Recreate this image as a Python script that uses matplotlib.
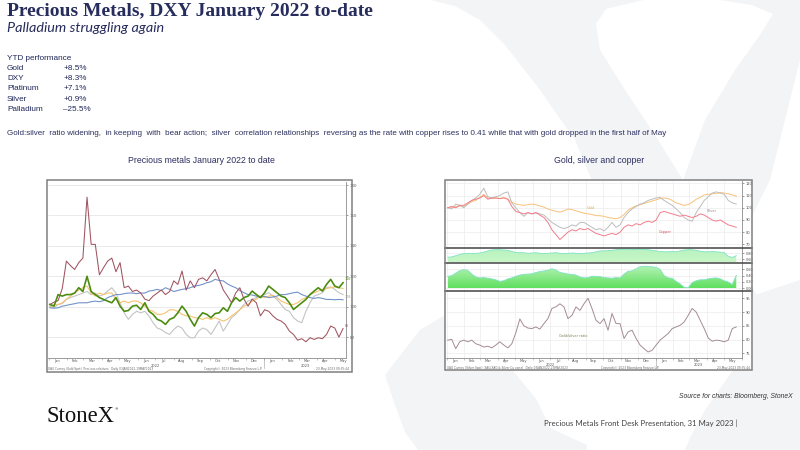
import matplotlib
matplotlib.use("Agg")
import matplotlib.pyplot as plt
import matplotlib.dates as mdates
from matplotlib.patches import Rectangle, Polygon
from matplotlib.lines import Line2D
from matplotlib.colors import LinearSegmentedColormap
import numpy as np
import pandas as pd

# ------------------------------------------------------------------ data
ytd_names = ["Gold", "DXY", "Platinum", "Silver", "Palladium"]
ytd_values = ["+8.5%", "+8.3%", "+7.1%", "+0.9%", "\u201325.5%"]

# left chart: weekly observations, rebased to 100 (Jan 2022)
left_start = "2022-01-03"
palladium = [101.5, 103, 104, 112, 130, 127, 124.5, 129, 132, 172, 141, 141, 121, 125.7, 130, 132,
             123, 129, 112.5, 113.6, 110, 111, 109, 105, 104, 107, 109, 111, 108, 110, 117, 114.7,
             123.5, 111, 117, 112.5, 118, 119, 117, 121, 124.5, 118, 111, 107, 102.6, 109, 112.5, 105,
             100.4, 105, 102.6, 94, 98, 97, 94, 91.7, 90.6, 88.4, 84, 81.8, 78, 79, 77, 79.6, 78.5,
             79.6, 79, 81.8, 87.3, 86, 80, 85.7]
gold_l = [100, 101.5, 101.5, 102.6, 105, 107, 109, 111, 112.5, 113.6, 109, 107, 109, 108, 109, 109,
          105, 102.6, 103.7, 102.6, 103.7, 103.7, 102.6, 100.4, 98, 97, 95, 95, 96, 98, 98, 97, 95,
          94, 94, 92.8, 92.5, 91.7, 92.8, 91.7, 92.8, 91.7, 90.6, 91.7, 94, 96, 98, 100.4, 101.5,
          103.7, 105, 107, 106, 107, 107.5, 106, 103.7, 102.6, 101.5, 101.5, 102.6, 104.8, 106, 108,
          109.2, 110.3, 111.4, 112, 112.5, 113, 112.5, 112]
dxy = [99.3, 99, 99.3, 100.4, 100.9, 101.5, 102, 102.6, 102.6, 102.6, 103.3, 103.7, 103.3, 104, 106,
       107, 108, 108, 108.6, 109, 109, 108.6, 109, 109, 110.3, 110.7, 111.4, 110.7, 112.5, 111.4, 110,
       110.7, 111.4, 111.8, 112.5, 113.6, 114, 114.7, 115.8, 116.4, 118, 117.3, 117, 115, 113.6,
       112.5, 110.7, 109.2, 108, 107.7, 107, 106.4, 106.8, 106, 106.4, 107, 108, 108, 108.6, 109.2,
       109.6, 108, 107, 106, 105.5, 106, 105.5, 104.8, 104.8, 104.6, 104.8, 104.6]
platinum = [101.5, 100.4, 108, 107, 108, 108, 109, 112.5, 110, 120, 110, 108, 106, 104.8, 103.7, 102.6,
            106, 100.4, 97, 97.5, 100.4, 101, 98.2, 102.6, 97, 95, 91.7, 90.6, 88.4, 91.7, 92.8, 96,
            100.4, 97, 91.7, 87.3, 92.8, 96, 95, 92.8, 95.5, 96, 99.3, 97, 102.6, 106, 103.7, 106, 107,
            110.3, 108, 106, 109.2, 113.6, 111.4, 109.2, 107, 106, 102.6, 98.2, 100.4, 102.6, 104.8,
            108, 110.3, 112.5, 110.3, 114.7, 118, 113.6, 112.5, 115.8]
silver_l = [100.4, 99.3, 101.5, 102, 104.8, 106, 107, 108, 109, 110, 108, 109, 107, 108, 110.3, 112.5,
            109, 102.6, 96, 91.7, 95, 97, 96, 97, 93.9, 89.5, 86, 85, 83, 81.8, 85, 87.3, 86, 81.8,
            79.6, 79.6, 84, 86, 85, 81.8, 86, 90.6, 84, 88.4, 92.8, 95, 98.2, 101.5, 103.7, 104.8, 106,
            107, 108, 109.2, 107, 104.8, 101.5, 98.2, 97, 92.8, 90.6, 89.5, 97, 102.6, 107, 108, 109.2,
            112.5, 113, 111.4, 109.2, 108]

# right chart: weekly observations
right_start = "2022-01-03"
gold_r = [100, 100.5, 101, 101.5, 101, 103, 105, 106, 108.5, 111, 108, 107.5, 108, 107.5, 108.5, 107,
          104.5, 103, 102.5, 102, 102.5, 103, 102.5, 101.5, 100.5, 99, 98, 97, 96.5, 97.5, 99, 98.5,
          97.5, 96.5, 95.5, 95, 94.5, 93.5, 93.5, 93, 92, 91.5, 91, 92, 94.5, 98, 100, 101.5, 102.5,
          103.5, 104.5, 105.5, 106.5, 107.5, 108, 107.5, 106, 104, 103, 102, 102.5, 104.5, 107, 108.5,
          110.5, 111, 111.5, 111.5, 112.5, 112, 111.5, 110.5, 109.5]
silver_r = [100, 99, 103, 102, 100, 103, 106, 108, 111, 116, 109, 108, 109, 110, 112, 113, 104, 100, 96,
            93, 96, 95, 96, 95, 94, 91, 88, 86, 84, 83, 84, 86, 85, 88, 88, 86, 84, 82, 83, 81, 84, 88,
            84, 86, 92, 96, 99, 101, 103, 104, 106, 107, 108, 108.5, 106, 104, 102, 99, 96, 92, 90, 89,
            96, 101, 106, 109, 112, 113, 112, 111, 106, 104, 103]
copper_r = [100, 101, 100, 102, 102, 104, 106, 107, 108, 110, 107, 108, 108, 107.5, 108, 107, 101, 97,
            96, 95, 96, 95, 96, 94, 92, 88, 82, 78, 74, 77, 80, 82, 81, 83, 82, 83, 81, 79, 78, 77, 78,
            79, 78, 80, 84, 86, 85, 87, 86, 88, 89, 88, 90, 96, 97, 96, 95, 94, 93, 94, 93, 92, 93, 95,
            94, 92, 90, 89, 90, 88, 86, 85, 84]
corr_silver_gold = [0.67, 0.68, 0.72, 0.76, 0.79, 0.80, 0.79, 0.80, 0.81, 0.84,
                    0.88, 0.91, 0.92, 0.92, 0.91, 0.90, 0.86, 0.83, 0.82, 0.82,
                    0.80, 0.81, 0.82, 0.80, 0.79, 0.80, 0.81, 0.82, 0.80, 0.79,
                    0.80, 0.81, 0.80, 0.79, 0.80, 0.81, 0.82, 0.85, 0.88, 0.88,
                    0.89, 0.90, 0.92, 0.93, 0.94, 0.94, 0.93, 0.93, 0.94, 0.93,
                    0.92, 0.90, 0.88, 0.86, 0.85, 0.85, 0.86, 0.85, 0.88, 0.91,
                    0.92, 0.92, 0.90, 0.87, 0.85, 0.85, 0.86, 0.85, 0.84, 0.82,
                    0.70, 0.66, 0.72]
corr_silver_copper = [0.38, 0.40, 0.48, 0.56, 0.59, 0.57, 0.45, 0.36, 0.33, 0.34,
                      0.32, 0.30, 0.27, 0.22, 0.24, 0.30, 0.33, 0.38, 0.42, 0.44,
                      0.45, 0.46, 0.50, 0.53, 0.55, 0.57, 0.62, 0.58, 0.50, 0.48,
                      0.45, 0.44, 0.42, 0.36, 0.33, 0.34, 0.38, 0.38, 0.37, 0.34,
                      0.33, 0.32, 0.34, 0.33, 0.45, 0.54, 0.55, 0.62, 0.68, 0.70,
                      0.69, 0.68, 0.66, 0.60, 0.40, 0.33, 0.32, 0.22, 0.14, 0.03,
                      0.02, 0.18, 0.24, 0.27, 0.27, 0.30, 0.32, 0.33, 0.30, 0.24,
                      0.20, 0.12, 0.41]
gold_silver_ratio = [79.8, 80.1, 76.7, 79.2, 79.8, 79.2, 79.8, 78.5, 78, 77.3,
                     77.6, 77, 78, 79.2, 78, 77, 78.5, 82.5, 87.5, 85,
                     84.2, 84, 84.6, 83.8, 85.8, 87.6, 91.3, 91.9, 93, 91.9,
                     87.6, 88.8, 91.9, 90.6, 93, 95, 91.3, 87, 85.8, 87.6,
                     83.4, 89.5, 85.8, 85.8, 80.4, 82.8, 83.4, 80.4, 78, 76.7,
                     75.5, 76.1, 78, 79.8, 81, 82.2, 84, 84.6, 85.2, 86.4,
                     88.8, 91.3, 90, 87, 84, 80.6, 79.4, 79.8, 79.6, 79.2,
                     79.8, 84, 84.6]

dates_l = pd.date_range(left_start, periods=len(palladium), freq="7D")
dates_r = pd.date_range(right_start, periods=len(gold_r), freq="7D")

# ------------------------------------------------------------------ figure helpers
W, H = 800, 450
fig = plt.figure(figsize=(8, 4.5), dpi=100)
fig.patch.set_facecolor("white")


def rect(x0, y0, x1, y1):
    return [x0 / W, 1 - y1 / H, (x1 - x0) / W, (y1 - y0) / H]


def T(x, y, s, **kw):
    kw.setdefault("va", "center")
    return fig.text(x / W, 1 - y / H, s, **kw)


def fpoly(pts, **kw):
    p = Polygon([(x / W, 1 - y / H) for x, y in pts], closed=True,
                transform=fig.transFigure, **kw)
    fig.add_artist(p)


def box(x0, y0, x1, y1):
    r = Rectangle((x0 / W, 1 - y1 / H), (x1 - x0) / W, (y1 - y0) / H,
                  transform=fig.transFigure, facecolor="white", edgecolor="none", zorder=-1)
    fig.add_artist(r)
    r2 = Rectangle((x0 / W, 1 - y1 / H), (x1 - x0) / W, (y1 - y0) / H,
                   transform=fig.transFigure, facecolor="none", edgecolor="#7f7f7f",
                   lw=1.1, zorder=6)
    fig.add_artist(r2)


def hline(x0, x1, y, **kw):
    fig.add_artist(Line2D([x0 / W, x1 / W], [1 - y / H, 1 - y / H],
                          transform=fig.transFigure, **kw))


# ------------------------------------------------------------------ watermark "X"
wm = dict(facecolor="#f3f4f6", edgecolor="none", zorder=-3)
# upper-left arm with its top serif
fpoly([(430, 0), (643, 0), (606, 9), (596, 24), (600, 50), (625, 90), (655, 135), (683, 180),
       (760, 300), (700, 300), (600, 200), (575, 140), (540, 90), (505, 45), (480, 20), (455, 6)], **wm)
# upper-right arm with its top serif
fpoly([(720, 0), (800, 0), (800, 60), (770, 180), (740, 240), (660, 240), (683, 180), (705, 120),
       (735, 70), (760, 35), (773, 14), (752, 5)], **wm)
# lower-right leg and foot
fpoly([(740, 300), (800, 280), (800, 450), (685, 450), (690, 438), (705, 410), (733, 370), (720, 330)], **wm)
# lower-left leg and foot
fpoly([(640, 240), (700, 260), (560, 320), (510, 367), (537, 400), (550, 428), (587, 445), (587, 450),
       (418, 450), (405, 432), (395, 405), (385, 375), (420, 330), (520, 270)], **wm)

# ------------------------------------------------------------------ slide text
navy = "#262c5c"
T(7, 16.5, "Precious Metals, DXY January 2022 to-date", va="baseline", fontsize=14,
  fontweight="bold", family="Liberation Serif", color=navy)
T(7, 32, "Palladium struggling again", va="baseline", fontsize=10.4, style="italic",
  family="Lato", color=navy)

body = dict(family="Liberation Sans", color="#1f2657", fontsize=5.9)
T(7, 58.5, "YTD performance", **body)
row_y = [68.5, 78.5, 88.5, 99.3, 109.3]
for nm, val, yy in zip(ytd_names, ytd_values, row_y):
    T(7, yy, nm, **body)
    T(63.3, yy, val, **body)

T(7, 134, "Gold:silver  ratio widening,  in keeping  with  bear action;  silver  correlation relationships  "
          "reversing as the rate with copper rises to 0.41 while that with gold dropped in the first half of May",
  family="Liberation Sans", color="#2b2f5e", fontsize=5.8)

T(201, 160, "Precious metals January 2022 to date", ha="center", family="Liberation Sans",
  color="#2b2f5e", fontsize=6.3)
T(599, 160, "Gold, silver and copper", ha="center", family="Liberation Sans",
  color="#2b2f5e", fontsize=6.3)

T(793, 397, "Source for charts: Bloomberg, StoneX", ha="right", style="italic",
  family="Liberation Sans", color="#333333", fontsize=4.9)
T(544, 423.5, "Precious Metals Front Desk Presentation, 31 May 2023 |", ha="left",
  family="Lato", color="#404040", fontsize=5.6)
T(47, 416, "StoneX", ha="left", family="Liberation Serif", color="#111111", fontsize=16.3)
T(114.5, 409.5, "\u00ae", ha="left", family="DejaVu Sans", color="#111111", fontsize=2.5)

# ------------------------------------------------------------------ common axis styling
tick_col = "#555555"


def month_axis(ax, labels=True, fs=2.6):
    ax.xaxis.set_major_locator(mdates.MonthLocator(bymonthday=15))
    ax.xaxis.set_major_formatter(mdates.DateFormatter("%b"))
    ax.xaxis.set_minor_locator(mdates.MonthLocator())
    ax.tick_params(axis="x", which="major", length=0, labelsize=fs, pad=0.8, colors=tick_col)
    ax.tick_params(axis="x", which="minor", length=1.5, width=0.4, color="#999999")
    if not labels:
        ax.tick_params(axis="x", which="both", labelbottom=False, length=0)


def right_y(ax, ticks, fmt, fs=3.0):
    ax.yaxis.tick_right()
    ax.set_yticks(ticks)
    ax.set_yticklabels([fmt.format(t) for t in ticks])
    ax.tick_params(axis="y", labelsize=fs, length=1.5, width=0.4, pad=1, colors=tick_col)
    for s in ["left", "top"]:
        ax.spines[s].set_visible(False)
    ax.spines["right"].set_color("#8c8c8c")
    ax.spines["right"].set_linewidth(0.6)
    ax.spines["bottom"].set_color("#8c8c8c")
    ax.spines["bottom"].set_linewidth(0.6)
    ax.set_facecolor("white")


def year_marks(ax, xlim, yfrac, sep_frac, fs=2.6):
    x0, x1 = [mdates.date2num(v) for v in xlim]
    split = mdates.date2num(pd.Timestamp("2023-01-01"))
    tr = ax.get_xaxis_transform()
    ax.text(mdates.num2date((x0 + split) / 2), yfrac, "2022", transform=tr, ha="center",
            va="center", fontsize=fs, color=tick_col)
    ax.text(mdates.num2date((split + x1) / 2), yfrac, "2023", transform=tr, ha="center",
            va="center", fontsize=fs, color=tick_col)
    ax.plot([split, split], [0, sep_frac], transform=tr, color="#999999", lw=0.4, clip_on=False)


# ------------------------------------------------------------------ left chart
box(46.7, 180, 351.7, 371.7)
axL = fig.add_axes(rect(47.5, 182, 346, 357.7))
xlimL = (pd.Timestamp("2021-12-30"), pd.Timestamp("2023-05-20"))
right_y(axL, [80, 100, 120, 140, 160, 180], "{:.0f}", fs=2.8)
axL.grid(True, axis="y", color="#e6e6e6", lw=0.6)
axL.set_axisbelow(True)
c_pd, c_au, c_dxy, c_pt, c_ag = "#a0535f", "#f7c36e", "#7393c9", "#4c8c11", "#c4c4c4"
axL.plot(dates_l, silver_l, color=c_ag, lw=0.8)
axL.plot(dates_l, gold_l, color=c_au, lw=0.8)
axL.plot(dates_l, dxy, color=c_dxy, lw=0.8)
axL.plot(dates_l, palladium, color=c_pd, lw=0.75)
axL.plot(dates_l, platinum, color=c_pt, lw=1.2)
for vals, col, off in [(platinum, c_pt, 3), (silver_l, "#999999", -2), (palladium, c_pd, 2)]:
    axL.annotate(f"{vals[-1]:.0f}", xy=(dates_l[-1], vals[-1]), xytext=(1, off),
                 textcoords="offset points", fontsize=2.4, color=col, va="center")
axL.set_xlim(*xlimL)
axL.set_ylim(66.5, 182)
month_axis(axL)
year_marks(axL, xlimL, -0.045, -0.06)
T(48, 369, "XAU Curncy (Gold Spot)  Precious relatives   Daily 03JAN2022-19MAY2023",
  fontsize=2.1, color="#666666", ha="left")
T(233, 369, "Copyright\u00a9 2023 Bloomberg Finance L.P.", fontsize=2.1, color="#666666", ha="center")
T(349, 369, "23-May-2023 09:35:44", fontsize=2.1, color="#666666", ha="right")

# ------------------------------------------------------------------ right chart
box(445, 180, 752, 370)
xlimR = (pd.Timestamp("2021-12-31"), pd.Timestamp("2023-06-01"))
ax1 = fig.add_axes(rect(446, 181, 742, 247.7))
ax2 = fig.add_axes(rect(446, 248.3, 742, 262.3))
ax3 = fig.add_axes(rect(446, 262.7, 742, 291))
ax4 = fig.add_axes(rect(446, 291, 742, 358.3))

for ax in (ax1, ax2, ax3, ax4):
    ax.set_axisbelow(True)
    ax.grid(True, which="minor", axis="x", color="#ececec", lw=0.5)
    ax.grid(True, which="major", axis="y", color="#ececec", lw=0.5)

# panel 1: prices
right_y(ax1, [70, 80, 90, 100, 110, 120], "{:.0f}", fs=2.6)
c_gr, c_sr, c_cr = "#f8c27a", "#bdbdbd", "#f27d8a"
ax1.plot(dates_r, gold_r, color=c_gr, lw=0.7)
ax1.plot(dates_r, silver_r, color=c_sr, lw=0.7)
ax1.plot(dates_r, copper_r, color=c_cr, lw=0.7)
ax1.text(pd.Timestamp("2022-09-10"), 100, "Gold", fontsize=2.5, color="#e0a050", ha="center", va="center")
ax1.text(pd.Timestamp("2023-04-09"), 97, "Silver", fontsize=2.5, color="#888888", ha="center", va="center")
ax1.text(pd.Timestamp("2023-01-18"), 80, "Copper", fontsize=2.5, color="#d85060", ha="center", va="center")
ax1.set_ylim(67.3, 121.9)


def grad_fill(ax, d, v, base, c_low, c_high, edge):
    coll = ax.fill_between(d, v, base, facecolor="none", edgecolor="none")
    path = coll.get_paths()[0]
    x0, x1 = mdates.date2num(d[0]), mdates.date2num(d[-1])
    cmap = LinearSegmentedColormap.from_list("g", [c_low, c_high])
    im = ax.imshow(np.linspace(0, 1, 256).reshape(-1, 1), extent=[x0, x1, base, max(v)],
                   origin="lower", aspect="auto", cmap=cmap, zorder=1, interpolation="bilinear")
    im.set_clip_path(path, ax.transData)
    ax.plot(d, v, color=edge, lw=0.6, zorder=2)


# panel 2: silver-gold correlation
right_y(ax2, [0.6, 0.8], "{:.2f}", fs=2.4)
grad_fill(ax2, dates_r, corr_silver_gold, 0.5, "#c9f6c6", "#b6f3c0", "#7fe3c5")
ax2.set_ylim(0.5, 0.967)

# panel 3: silver-copper correlation
right_y(ax3, [0.0, 0.2, 0.4, 0.6], "{:.2f}", fs=2.4)
grad_fill(ax3, dates_r, corr_silver_copper, 0.0, "#5fdf5f", "#b8f3b8", "#7fe3c5")
ax3.set_ylim(-0.085, 0.81)

# panel 4: gold/silver ratio
right_y(ax4, [75, 80, 85, 90, 95], "{:.0f}", fs=2.6)
ax4.plot(dates_r, gold_silver_ratio, color="#a58c95", lw=0.7)
ax4.text(pd.Timestamp("2022-08-10"), 81.2, "Gold/silver ratio", fontsize=2.5, color="#7a7a50",
         ha="center", va="center")
ax4.set_ylim(73.2, 97.65)

for ax in (ax1, ax2, ax3, ax4):
    ax.set_xlim(*xlimR)
    month_axis(ax, labels=(ax is ax4))
    if ax is not ax4:
        ax.spines["bottom"].set_visible(False)
year_marks(ax4, xlimR, -0.1, -0.14)

for yy in (248, 262.5, 291):
    hline(445, 752, yy, color="#444444", lw=1.1, zorder=5)

T(447, 368.3, "XAG Curncy (Silver Spot)  XAU/XAG & Silver Cu correl   Daily 03JAN2022-23MAY2023",
  fontsize=2.1, color="#666666", ha="left")
T(630, 368.3, "Copyright\u00a9 2023 Bloomberg Finance L.P.", fontsize=2.1, color="#666666", ha="center")
T(750, 368.3, "23-May-2023 09:35:44", fontsize=2.1, color="#666666", ha="right")

fig.savefig("out.png", dpi=100, facecolor="white")
